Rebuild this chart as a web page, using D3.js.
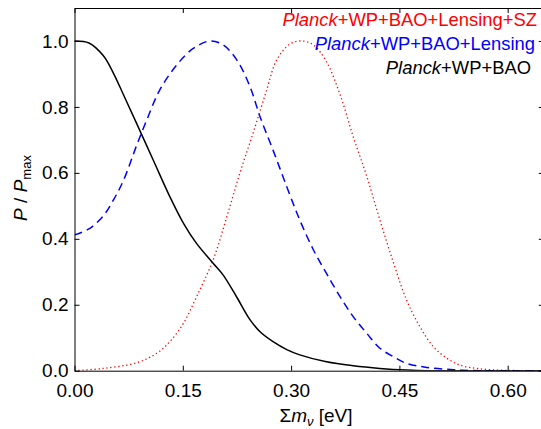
<!DOCTYPE html>
<html>
<head>
<meta charset="utf-8">
<script src="https://cdn.jsdelivr.net/npm/d3@7"></script>
<style>
  html, body { margin: 0; padding: 0; background: #fff; }
  svg { display: block; font-family: "Liberation Sans", Arial, Helvetica, sans-serif; }
</style>
</head>
<body>
<svg id="chart" width="541" height="429"></svg>
<script>
// ---- data ----
const xTicks = [0.00, 0.15, 0.30, 0.45, 0.60];
const yTicks = [0.0, 0.2, 0.4, 0.6, 0.8, 1.0];

const blackX = [0, 0.02, 0.04, 0.054, 0.068, 0.086, 0.109, 0.132, 0.151, 0.169, 0.192, 0.206, 0.225, 0.243, 0.257, 0.275, 0.294, 0.312, 0.349, 0.386, 0.423, 0.46, 0.49, 0.65];
const blackP = [1.0, 0.994, 0.955, 0.902, 0.836, 0.750, 0.639, 0.528, 0.447, 0.386, 0.326, 0.290, 0.222, 0.155, 0.118, 0.088, 0.064, 0.048, 0.027, 0.015, 0.007, 0.002, 0.0, 0.0];

const blueX = [0, 0.02, 0.04, 0.054, 0.068, 0.086, 0.100, 0.118, 0.1415, 0.165, 0.188, 0.206, 0.225, 0.243, 0.257, 0.275, 0.294, 0.312, 0.331, 0.349, 0.368, 0.386, 0.405, 0.423, 0.442, 0.46, 0.488, 0.525, 0.56, 0.65];
const blueP = [0.412, 0.430, 0.470, 0.518, 0.578, 0.683, 0.760, 0.851, 0.927, 0.978, 1.0, 0.988, 0.942, 0.862, 0.770, 0.669, 0.558, 0.457, 0.366, 0.295, 0.224, 0.164, 0.113, 0.068, 0.042, 0.022, 0.010, 0.003, 0.0, 0.0];

const redX = [0, 0.04, 0.086, 0.114, 0.132, 0.151, 0.169, 0.192, 0.211, 0.229, 0.248, 0.266, 0.280, 0.2985, 0.315, 0.331, 0.349, 0.368, 0.386, 0.405, 0.423, 0.442, 0.460, 0.4785, 0.497, 0.5155, 0.534, 0.56, 0.60, 0.65];
const redP = [0.0, 0.007, 0.024, 0.053, 0.088, 0.144, 0.224, 0.336, 0.467, 0.599, 0.725, 0.850, 0.942, 0.991, 1.0, 0.988, 0.937, 0.836, 0.710, 0.588, 0.457, 0.326, 0.214, 0.133, 0.073, 0.038, 0.017, 0.006, 0.001, 0.0];

const legendItalic = ["Planck", "Planck", "Planck"];
const legendRest = ["+WP+BAO+Lensing+SZ", "+WP+BAO+Lensing", "+WP+BAO"];
const legendColors = ["#ff0000", "#0000ff", "#000000"];

// ---- layout ----
const svg = d3.select("#chart");
const L = 74.5, R = 543.8, T = 8, B = 370.7;
const x = d3.scaleLinear().domain([0, 0.65]).range([L, R]);
const y = d3.scaleLinear().domain([0, 1.1]).range([B, T]);

svg.append("defs").append("clipPath").attr("id", "clip")
  .append("rect").attr("x", L).attr("y", T).attr("width", R - L).attr("height", B - T);

const line = d3.line().x(d => x(d[0])).y(d => y(d[1])).curve(d3.curveCatmullRom.alpha(0.5));
const zip = (a, b) => a.map((v, i) => [v, b[i]]);

const g = svg.append("g").attr("clip-path", "url(#clip)");
g.append("path").datum(zip(redX, redP)).attr("d", line)
  .attr("fill", "none").attr("stroke", "#ff0000").attr("stroke-width", 1.3)
  .attr("stroke-dasharray", "1.3,2.7");
g.append("path").datum(zip(blueX, blueP)).attr("d", line)
  .attr("fill", "none").attr("stroke", "#0000ff").attr("stroke-width", 1.5)
  .attr("stroke-dasharray", "8,5");
g.append("path").datum(zip(blackX, blackP)).attr("d", line)
  .attr("fill", "none").attr("stroke", "#000000").attr("stroke-width", 1.5);

// ---- axes ----
function styleAxis(sel) {
  sel.selectAll("path.domain").attr("stroke", "#000").attr("stroke-width", 1);
  sel.selectAll(".tick line").attr("stroke", "#000").attr("stroke-width", 1);
  sel.selectAll(".tick text").attr("font-size", 19).attr("fill", "#000")
    .attr("font-family", "'Liberation Sans', Arial, Helvetica, sans-serif");
}
const fmt2 = d3.format(".2f"), fmt1 = d3.format(".1f");

svg.append("g").attr("transform", `translate(0,${B})`)
  .call(d3.axisBottom(x).tickValues(xTicks).tickFormat(fmt2).tickSizeInner(-5).tickSizeOuter(0).tickPadding(13))
  .call(styleAxis);
svg.append("g").attr("transform", `translate(0,${T})`)
  .call(d3.axisTop(x).tickValues(xTicks).tickFormat("").tickSizeInner(-5).tickSizeOuter(0))
  .call(styleAxis);
svg.append("g").attr("transform", `translate(${L},0)`)
  .call(d3.axisLeft(y).tickValues(yTicks).tickFormat(fmt1).tickSizeInner(-5).tickSizeOuter(0).tickPadding(6))
  .call(styleAxis);
svg.append("g").attr("transform", `translate(${R},0)`)
  .call(d3.axisRight(y).tickValues(yTicks).tickFormat("").tickSizeInner(-5).tickSizeOuter(0))
  .call(styleAxis);

// ---- axis titles ----
const xl = svg.append("text").attr("x", 316).attr("y", 421.7).attr("text-anchor", "middle")
  .attr("font-size", 19).attr("fill", "#000");
xl.append("tspan").text("Σ");
xl.append("tspan").attr("font-style", "italic").text("m");
xl.append("tspan").attr("font-style", "italic").attr("font-size", 13).attr("dy", 4).text("ν");
xl.append("tspan").attr("dy", -4).text(" [eV]");

const yl = svg.append("text").attr("transform", "translate(27,188) rotate(-90)")
  .attr("text-anchor", "middle").attr("font-size", 19).attr("fill", "#000");
yl.append("tspan").attr("font-style", "italic").text("P");
yl.append("tspan").text(" / ");
yl.append("tspan").attr("font-style", "italic").text("P");
yl.append("tspan").attr("font-size", 13).attr("dy", 4).text("max");

// ---- legend ----
const legendEnd = [537, 535, 531];
const legendBase = [26, 50, 74];
legendItalic.forEach((it, i) => {
  const t = svg.append("text").attr("x", legendEnd[i]).attr("y", legendBase[i])
    .attr("text-anchor", "end").attr("font-size", 18.4).attr("fill", legendColors[i]);
  t.append("tspan").attr("font-style", "italic").text(it);
  t.append("tspan").text(legendRest[i]);
});
</script>
</body>
</html>
